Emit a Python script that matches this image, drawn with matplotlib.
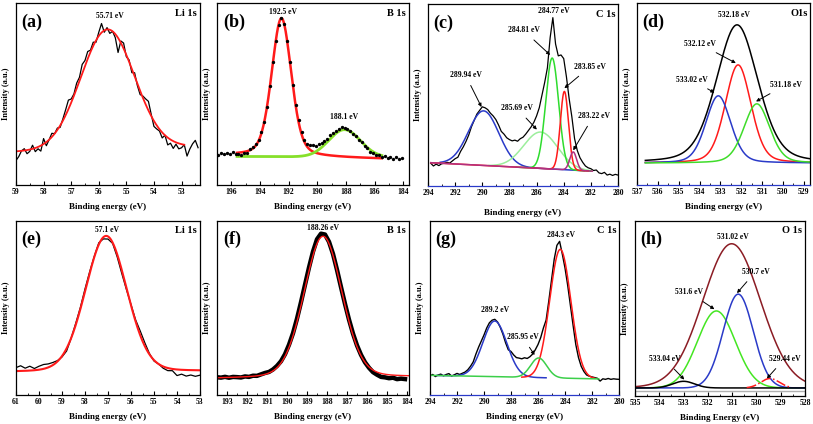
import numpy as np
import matplotlib
matplotlib.use("Agg")
import matplotlib.pyplot as plt
from matplotlib.ticker import MultipleLocator, FormatStrFormatter

plt.rcParams["font.family"] = ["Liberation Serif", "DejaVu Serif"]
plt.rcParams["font.weight"] = "bold"

W, H = 813, 424
RED, BLUE, GREEN = "#ff1a1a", "#2a3ac8", "#3fdc2a"

# ---------------- data (y in % of panel height) ----------------
# (a) Li 1s : fit peak (centre, height, sigma, lorentz fraction), linear background, residual noise
a_peak = (55.68, 65.7, 0.97, 0.0)
a_bg = (59.0, 18.3, 53.0, 21.0)
a_start, a_step = 59.0, 0.1
a_resid = [-5, -3, 0, 1, -2, -1, 2, -2, -1, -3, 3, -2, 0, 2, 0, 1, -1, 1, 3, 5,
           2, 1, 3, 2, 5, 3, 4, 1, 2, -1, 2, 5, -1, 1, -2, 0, -2, -8, 1, 3,
           -1, 1, -2, 2, -1, -2, 1, 3, 5, 1, -3, -2, -1, -3, 0, -4, -2, -4, -1, -3,
           -2, 0, -6, -2, 1, 3, -1]

# (b) B 1s
b_peaks = [(192.5, 76.0, 0.69, 0.3), (188.1, 15.0, 1.1, 0.0)]
b_bg_red = (196.0, 16.3, 185.0, 14.3)
b_bg_green = (196.0, 15.7, 185.0, 15.3)
b_start, b_step = 196.9, 0.2
b_resid = [-0.5, 0.3, -0.4, 0.2, -0.6, 0.4, -0.8, -1.0, -1.2, -0.5,
           -0.8, 0.5, 0.8, 1.0, 0.5, 0.8, 0.0, -0.5, -0.3, 0.5,
           0.0, -0.5, 0.0, 0.5, 0.0, 0.8, 0.5, 0.8, 1.0, 0.8,
           0.5, 0.8, 1.5, 1.8, 1.0, 1.2, 0.8, 1.0, 0.6, 1.2,
           0.8, 0.5, 1.0, 1.2, 0.8, 0.5, 0.2, -0.3, 0.0, -0.5,
           0.3, -0.2, 0.4, -0.5, 0.0, -0.6, 0.3, -0.4, 0.5, -0.3,
           0.4, -0.5, 0.6, -0.2, 0.3]

# (c) C 1s : measured spectrum + 5 components
c_start, c_step = 293.8, 0.2
c_data = [12.5, 11.0, 12.0, 11.2, 12.2, 12.5, 13.0, 12.6, 13.8, 15.0,
          15.8, 19.0, 21.5, 24.5, 28.0, 32.5, 36.0, 39.5, 41.5, 43.5,
          43.0, 42.0, 40.0, 38.5, 36.5, 33.5, 30.0, 28.5, 26.5, 25.5,
          24.8, 25.2, 24.6, 26.0, 26.8, 28.5, 30.5, 32.5, 35.0, 38.5,
          43.0, 50.0, 57.0, 65.0, 81.5, 92.5, 78.0, 71.5, 72.0, 70.0,
          60.0, 48.0, 38.0, 26.0, 19.5, 15.5, 13.0, 11.0, 10.0, 9.5,
          8.5, 8.8, 7.2, 6.8, 7.5, 6.0, 6.5, 5.8, 6.4, 6.0]
c_bg = (293.8, 12.8, 281.5, 8.0)
c_centres = [289.9, 285.7, 284.85, 283.95, 283.3]
c_heights = [30.0, 20.0, 61.0, 43.0, 10.0]
c_sigmas = [1.12, 1.25, 0.475, 0.3, 0.25]
c_colors = [BLUE, "#9cee9c", "#2edc2e", RED, "#b03080"]
c_ranges = [(293.1, 282.5), (289.5, 282.0), (287.5, 282.0), (293.8, 282.2), (293.8, 281.9)]

# (d) O 1s : envelope + 3 components
d_bg = (536.6, 12.0, 528.7, 12.0)
d_peaks = [(532.2, 76.0, 1.0, 0.3), (532.15, 54.0, 0.62, 0.25),
           (533.1, 37.0, 0.6, 0.25), (531.25, 32.6, 0.62, 0.25)]
d_colors = ["black", RED, BLUE, GREEN]

# (e) Li 1s
e_peak = (57.08, 78.0, 0.9, 0.1)
e_bg = (61.0, 13.2, 53.0, 13.7)
e_start, e_step = 61.0, 0.2
e_resid = [2.0, 3.0, 1.5, 2.5, 1.0, 2.0, 2.5, 2.0, 1.5, 0.5,
           -0.5, -1.5, 0.0, 1.0, 1.0, 1.5, 1.0, 0.5, 1.0, -1.0,
           -1.5, -0.5, -1.5, -2.0, -1.0, 0.5, 1.0, 2.5, 2.0, 0.5,
           -0.5, 0.0, -1.0, -1.5, -1.0, -3.5, -2.5, -3.5, -2.8, -3.5, -2.8]

# (f) B 1s
f_peak = (188.2, 81.3, 0.95, 0.15)
f_bg = (193.5, 9.4, 184.0, 10.3)
f_start, f_step = 193.5, 0.2
f_resid = [0.3, 0.0, 0.4, -0.2, 0.2, 0.0, -0.3, 0.2, -0.2, 0.3,
           0.0, 0.5, 0.8, 0.6, 0.8, 1.0, 1.0, 1.2, 1.5, 1.5,
           1.8, 2.0, 2.0, 2.0, 2.2, 2.5, 2.0, 1.5, 1.0, 0.8,
           0.5, 0.5, 0.8, 1.0, 1.0, 0.8, 0.5, 0.0, -0.5, -1.2,
           -1.5, -2.0, -1.8, -2.0, -1.5, -2.2, -1.8, -2.0]

# (g) C 1s
g_start, g_step = 294.0, 0.2
g_data = [11.0, 11.8, 10.6, 11.5, 12.0, 11.0, 11.8, 12.3, 10.9, 11.6,
          12.4, 11.8, 12.5, 13.2, 14.5, 16.5, 19.0, 23.5, 27.5, 31.0,
          34.5, 38.5, 41.5, 43.0, 43.5, 42.0, 39.0, 35.0, 30.0, 26.0,
          25.0, 23.0, 21.5, 21.2, 20.8, 21.4, 21.0, 22.0, 23.5, 26.0,
          29.0, 33.0, 38.5, 43.0, 54.0, 66.0, 78.0, 86.0, 88.3, 81.0,
          73.0, 63.0, 51.5, 40.0, 29.0, 21.5, 16.5, 13.5, 11.5, 10.8,
          10.4, 10.0, 9.6, 8.0, 9.3, 9.0, 9.5, 9.0, 9.3, 9.1, 9.0]
g_bg = (294.0, 11.3, 280.0, 9.0)
g_centres = [289.2, 284.35, 285.95]
g_heights = [32.0, 74.0, 11.3]
g_sigmas = [0.89, 0.78, 0.6]
g_colors = [BLUE, RED, "#3ccf4a"]
g_ranges = [(293.5, 285.4), (287.2, 281.8), (294.0, 281.5)]

# (h) O 1s
h_bg = (535.0, 4.6, 528.0, 4.6)
h_peaks = [(531.02, 82.4, 1.19, 0.05), (531.65, 44.0, 0.78, 0.0), (530.75, 53.6, 0.62, 0.0),
           (533.0, 3.8, 0.45, 0.0), (529.44, 5.4, 0.38, 0.0)]
h_colors = ["#8b1c24", "#44e622", BLUE, "black", RED]
h_ranges = [(535.0, 528.0), (535.0, 528.0), (535.0, 528.0), (535.0, 528.0), (530.4, 528.6)]
h_styles = ["-", "-", "-", "-", "-."]
h_shirley = 3.0


def pv(x, c, h, s, eta=0.0):
    g = np.exp(-(x - c) ** 2 / (2 * s ** 2))
    hw = s * np.sqrt(2 * np.log(2))
    lo = 1 / (1 + ((x - c) / hw) ** 2)
    return h * ((1 - eta) * g + eta * lo)


def line_bg(x, bg):
    x0, y0, x1, y1 = bg
    return y0 + (x - x0) * (y1 - y0) / (x1 - x0)


def energies(start, step, n):
    return start - step * np.arange(n)


def span(lo_hi, n=400):
    return np.linspace(lo_hi[0], lo_hi[1], n)


fig = plt.figure(figsize=(W / 100, H / 100), dpi=100)


def panel(rect, xlim, major, minor, tag, core, xlabel="Binding energy (eV)", xpad=5, blue_base=False):
    l, r, t, b = rect
    ax = fig.add_axes([l / W, 1 - b / H, (r - l) / W, (b - t) / H])
    ax.set_xlim(*xlim)
    ax.set_ylim(0, 100)
    ax.set_yticks([])
    ax.xaxis.set_major_locator(MultipleLocator(major))
    ax.xaxis.set_minor_locator(MultipleLocator(minor))
    ax.xaxis.set_major_formatter(FormatStrFormatter("%d"))
    ax.tick_params(axis="x", which="both", direction="in", labelsize=5.5, pad=2.5)
    ax.tick_params(axis="x", which="major", length=3, width=0.8)
    ax.tick_params(axis="x", which="minor", length=1.5, width=0.6)
    for lab in ax.get_xticklabels():
        lab.set_fontweight("bold")
    for sp in ax.spines.values():
        sp.set_linewidth(0.9)
    if blue_base:
        ax.spines["bottom"].set_color(BLUE)
    ax.set_xlabel(xlabel, fontsize=6.5, fontweight="bold", labelpad=xpad)
    ax.set_ylabel("Intensity (a.u.)", fontsize=6, fontweight="bold", labelpad=4)
    ax.text(0.03, 0.895, tag, transform=ax.transAxes, fontsize=13, fontweight="bold",
            ha="left", va="center")
    ax.text(0.985, 0.945, core, transform=ax.transAxes, fontsize=7.5, fontweight="bold",
            ha="right", va="center")
    return ax


def label_peaks(ax, items):
    for it in items:
        if len(it) == 3:
            ax.text(it[1], it[2], it[0], fontsize=5.5, fontweight="bold", ha="center", va="center")
        else:
            ax.annotate(it[0], xy=(it[3], it[4]), xytext=(it[1], it[2]), fontsize=5.5,
                        fontweight="bold", ha="center", va="center",
                        arrowprops=dict(arrowstyle="-|>", lw=0.7, color="black",
                                        mutation_scale=5, shrinkA=3, shrinkB=0))


# (a)
ax = panel((16, 200, 3, 185), (59, 52.33), 1, 0.5, "(a)", "Li 1s")
x = energies(a_start, a_step, len(a_resid))
ax.plot(x, pv(x, *a_peak) + line_bg(x, a_bg) + np.array(a_resid), color="black", lw=0.9)
xf = span((59.0, 52.9))
ax.plot(xf, pv(xf, *a_peak) + line_bg(xf, a_bg), color=RED, lw=1.3)
label_peaks(ax, [("55.71 eV", 55.6, 92.9)])

# (b)
ax = panel((217, 409, 3, 185), (197, 183.6), 2, 1, "(b)", "B 1s")
xf = span((195.6, 185.5))
ax.plot(xf, pv(xf, *b_peaks[0]) + line_bg(xf, b_bg_red), color=RED, lw=1.8)
ax.plot(xf, pv(xf, *b_peaks[1]) + line_bg(xf, b_bg_green), color="#86e02a", lw=2.0)
x = energies(b_start, b_step, len(b_resid))
yb = pv(x, *b_peaks[0]) + pv(x, *b_peaks[1]) + line_bg(x, b_bg_red) + np.array(b_resid)
ax.plot(x, yb, ls="none", marker="o", ms=1.4, color="black")
label_peaks(ax, [("192.5 eV", 192.4, 95), ("188.1 eV", 188.1, 37.3)])

# (c)
ax = panel((428, 618, 4, 186), (294, 280), 2, 1, "(c)", "C 1s", xpad=8, blue_base=True)
x = energies(c_start, c_step, len(c_data))
ax.plot(x, c_data, color="black", lw=0.9)
for c, hh, s, col, rg in zip(c_centres, c_heights, c_sigmas, c_colors, c_ranges):
    xf = span(rg)
    ax.plot(xf, pv(xf, c, hh, s) + line_bg(xf, c_bg), color=col, lw=1.1)
label_peaks(ax, [("289.94 eV", 291.24, 61, 290.06, 43.4),
                 ("285.69 eV", 287.45, 42.7, 285.98, 31),
                 ("284.81 eV", 286.96, 85.5, 285.0, 72),
                 ("284.77 eV", 284.76, 96),
                 ("283.85 eV", 282.07, 65.5, 283.95, 53.7),
                 ("283.22 eV", 281.8, 38.5, 283.3, 19.6)])

# (d)
ax = panel((637, 810, 3, 185), (537, 528.7), 1, 0.5, "(d)", "O1s", blue_base=True)
xf = span((536.6, 528.7))
for pk, col in zip(d_peaks, d_colors):
    ax.plot(xf, pv(xf, *pk) + line_bg(xf, d_bg), color=col, lw=1.1)
label_peaks(ax, [("532.18 eV", 532.34, 93.4),
                 ("532.12 eV", 533.99, 77.5, 532.26, 67),
                 ("533.02 eV", 534.36, 57.7, 533.28, 50.7),
                 ("531.18 eV", 529.86, 55, 531.29, 45.9)])

# (e)
ax = panel((16, 200, 221, 395), (61, 53), 1, 0.5, "(e)", "Li 1s")
x = energies(e_start, e_step, len(e_resid))
ax.plot(x, pv(x, *e_peak) + line_bg(x, e_bg) + np.array(e_resid), color="black", lw=0.9)
xf = span((61.0, 53.0))
ax.plot(xf, pv(xf, *e_peak) + line_bg(xf, e_bg), color=RED, lw=1.5)
label_peaks(ax, [("57.1 eV", 57.04, 94.6)])

# (f)
ax = panel((217, 409, 221, 395), (193.5, 183.9), 1, 0.5, "(f)", "B 1s")
x = energies(f_start, f_step, len(f_resid))
ax.plot(x, pv(x, *f_peak) + line_bg(x, f_bg) + np.array(f_resid), color="black", lw=3.2)
xf = span((193.5, 183.9))
ax.plot(xf, pv(xf, *f_peak) + line_bg(xf, f_bg), color=RED, lw=1.0)
label_peaks(ax, [("188.26 eV", 188.2, 96)])

# (g)
ax = panel((430, 619, 221, 395), (294, 280), 2, 1, "(g)", "C 1s", blue_base=True)
x = energies(g_start, g_step, len(g_data))
ax.plot(x, g_data, color="black", lw=1.0)
for c, hh, s, col, rg in zip(g_centres, g_heights, g_sigmas, g_colors, g_ranges):
    xf = span(rg)
    ax.plot(xf, pv(xf, c, hh, s) + line_bg(xf, g_bg), color=col, lw=1.1)
label_peaks(ax, [("284.3 eV", 284.3, 92.1), ("289.2 eV", 289.18, 48.7),
                 ("285.95 eV", 287.15, 33.3, 286.25, 23)])

# (h)
ax = panel((635, 805, 221, 396), (535, 528), 1, 0.5, "(h)", "O 1s", xlabel="Binding Energy (eV)")
ax.axhline(h_shirley, color="#b0b0b0", lw=1.0)
for pk, col, rg, st in zip(h_peaks, h_colors, h_ranges, h_styles):
    xf = span(rg)
    ax.plot(xf, pv(xf, *pk) + line_bg(xf, h_bg), color=col, lw=1.1, ls=st)
label_peaks(ax, [("531.02 eV", 530.97, 90.8),
                 ("530.7 eV", 530.04, 71, 530.8, 58.8),
                 ("531.6 eV", 532.77, 59.2, 531.73, 49.6),
                 ("533.04 eV", 533.77, 20.9, 532.97, 9.4),
                 ("529.44 eV", 528.84, 21.3, 529.57, 10)])

fig.savefig("out.png", dpi=100)
